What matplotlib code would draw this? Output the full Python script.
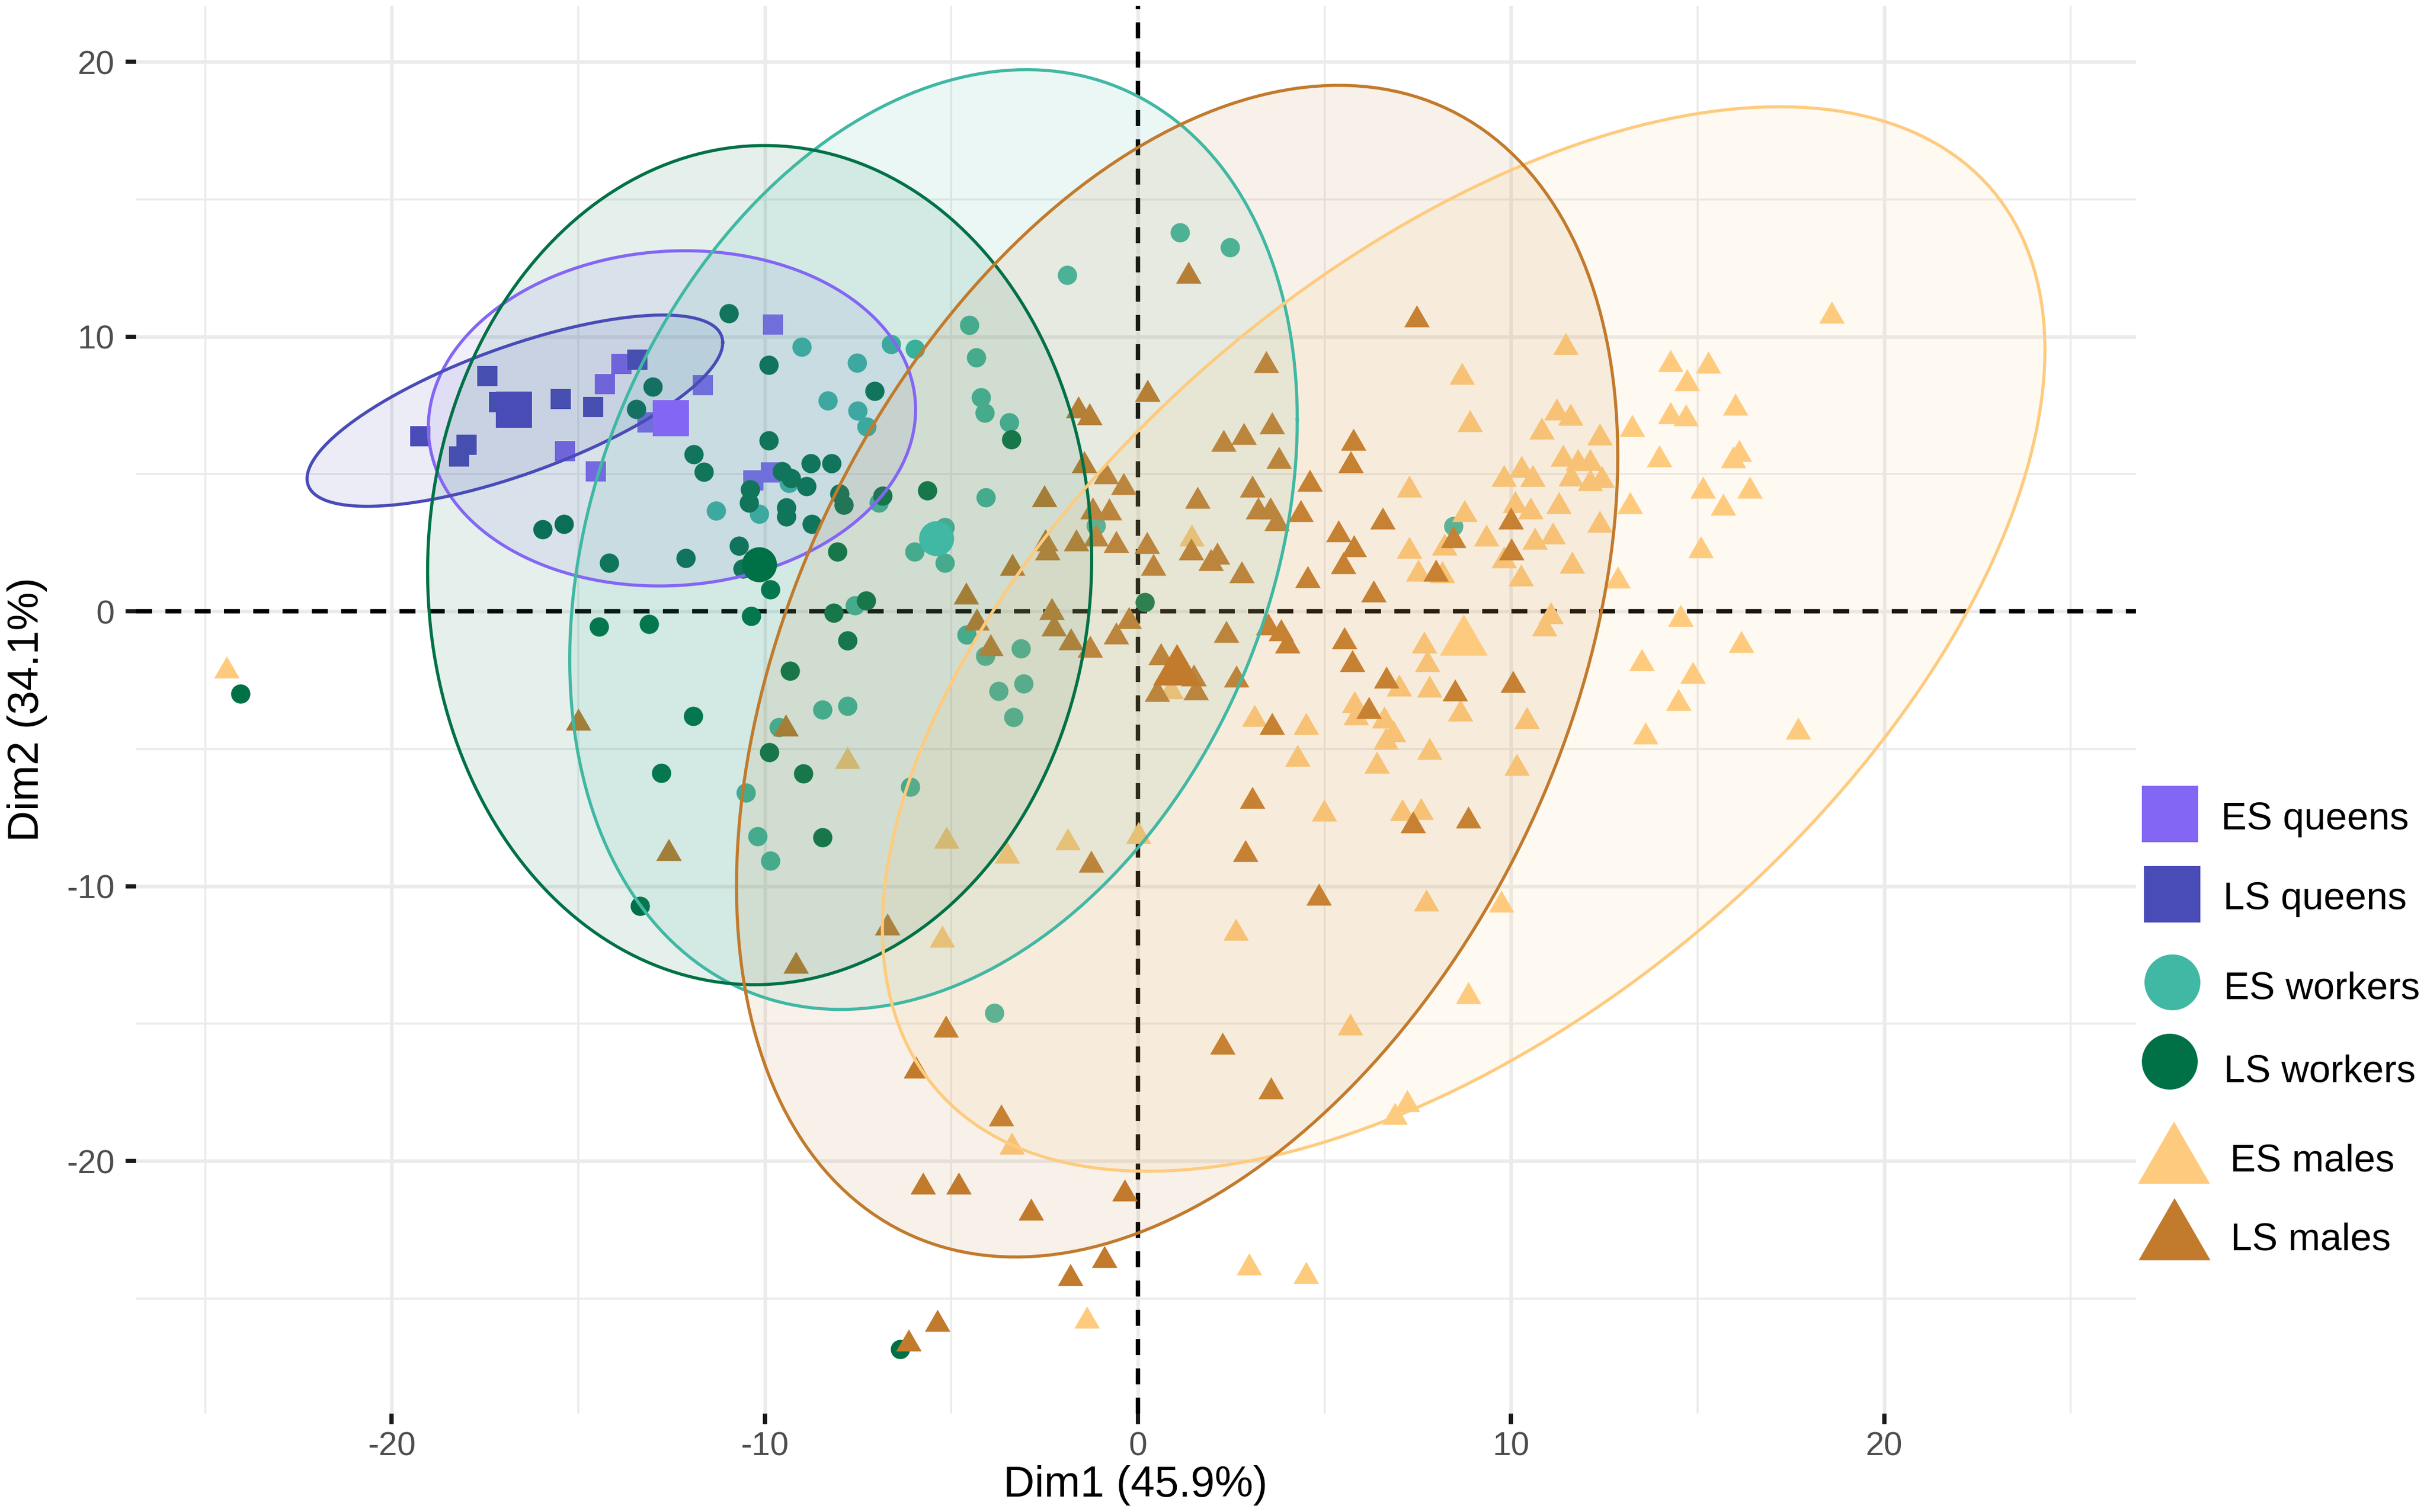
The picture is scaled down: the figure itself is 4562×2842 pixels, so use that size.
import numpy as np
import matplotlib
matplotlib.use("Agg")
import matplotlib.pyplot as plt
from matplotlib.path import Path
from matplotlib.ticker import MultipleLocator, FixedLocator

plt.rcParams['font.family'] = ['Liberation Sans', 'DejaVu Sans']
plt.rcParams['axes.unicode_minus'] = False

# ---------------- data ----------------
groups = ['ES queens', 'LS queens', 'ES workers', 'LS workers', 'ES males', 'LS males']
colors = ['#8466F4', '#494BB7', '#40B8A3', '#007146', '#FECB7E', '#C27A2C']

es_queens_x = [-9.78, -13.85, -14.29, -11.67, -13.15, -15.36, -14.53, -10.31, -9.84]
es_queens_y = [10.45, 9.01, 8.28, 8.23, 6.89, 5.84, 5.11, 4.78, 5.06]

ls_queens_x = [-17.44, -13.42, -17.13, -15.47, -14.6, -19.23, -17.99, -18.19]
ls_queens_y = [8.56, 9.17, 7.62, 7.73, 7.45, 6.37, 6.06, 5.64]

es_workers_x = [-9.01, -6.61, -5.97, -7.53, -8.32, -7.51, -7.27, -11.31, -10.15, -9.36,
                -6.94, -5.99, -5.17, -5.17, -7.59, 1.12, 2.46, -1.89, -4.52, -4.34,
                -4.2, -4.1, -3.45, -4.08, -1.12, 8.45, -4.59, -4.09, -3.14, -3.06,
                -3.73, -3.33, -8.46, -7.79, -9.62, -10.51, -6.11, -10.19, -9.86, -3.85]
es_workers_y = [9.64, 9.73, 9.56, 9.06, 7.67, 7.3, 6.73, 3.67, 3.56, 4.67,
                3.95, 2.17, 1.78, 3.06, 0.22, 13.8, 13.26, 12.24, 10.42, 9.24,
                7.8, 7.24, 6.89, 4.16, 3.13, 3.11, -0.84, -1.62, -1.34, -2.62,
                -2.9, -3.84, -3.58, -3.43, -4.21, -6.6, -6.38, -8.18, -9.08, -14.6]

ls_workers_x = [-10.96, -9.9, -13.0, -13.44, -7.06, -9.9, -11.9, -11.63, -8.77, -8.22,
                -9.54, -9.3, -8.89, -10.39, -10.43, -9.42, -9.42, -8.74, -8.0, -7.89,
                -6.85, -5.64, -15.95, -15.38, -14.17, -12.12, -10.7, -10.6, -9.86, -8.06,
                -7.29, -8.15, -10.37, -14.45, -13.11, -7.79, -9.33, -3.4, 0.18, -11.92,
                -9.88, -12.78, -8.97, -8.46, -13.34, -6.37, -24.05]
ls_workers_y = [10.86, 8.98, 8.17, 7.36, 8.03, 6.23, 5.73, 5.08, 5.39, 5.39,
                5.11, 4.84, 4.56, 4.45, 3.95, 3.78, 3.45, 3.19, 4.28, 3.89,
                4.22, 4.41, 3.0, 3.19, 1.78, 1.95, 2.39, 1.56, 0.81, 2.17,
                0.39, -0.05, -0.17, -0.56, -0.45, -1.06, -2.15, 6.27, 0.33, -3.8,
                -5.13, -5.88, -5.9, -8.21, -10.71, -26.85, -3.0]

es_males_x = [8.69, 8.9, 10.82, 7.27, 9.81, 10.28, 10.58, 8.75, 10.11, 10.52,
              9.34, 7.27, 8.22, 10.64, 7.51, 8.16, 9.81, 10.26, 1.44,
              18.59, 11.46, 14.27, 15.28, 14.71, 16.01, 11.22, 11.59, 14.27, 14.69,
              13.25, 12.38, 16.11, 15.96, 13.98, 11.4, 11.79, 12.12, 11.61, 12.12,
              12.44, 15.14, 16.4, 15.69, 13.19, 11.28, 12.38, 11.12, 11.64, 12.86,
              15.08, 11.06, 10.9, 14.55, 16.17, 13.5, 14.87, 14.49, 17.7, 10.43, 13.6,
              7.67, 7.76, 7.0, 7.81, 5.81, 5.84, 6.6, 6.84, 6.64, 8.64,
              3.12, 4.51, 4.28, 6.4, 7.81, 10.15, 4.99, 7.08, 7.59, 7.73,
              9.74, 2.62, 8.85, 5.69,
              -7.79, -5.13, -1.88, -3.51, 0.01, -5.25, 0.88,
              -3.38, 7.22, 6.88, 2.98, 4.51, -1.37,
              -24.43]
es_males_y = [8.66, 6.94, 6.66, 4.55, 4.94, 5.27, 4.94, 3.66, 4.0, 3.77,
              2.77, 2.33, 2.44, 2.66, 1.5, 1.44, 1.99, 1.33, 2.77,
              10.89, 9.74, 9.13, 9.07, 8.44, 7.55, 7.37, 7.18, 7.24, 7.15,
              6.77, 6.46, 5.85, 5.63, 5.66, 5.68, 5.52, 5.52, 4.96, 4.79,
              4.91, 4.52, 4.52, 3.9, 3.96, 3.96, 3.29, 2.85, 1.79, 1.24,
              2.35, -0.04, -0.49, -0.15, -1.1, -1.76, -2.21, -3.21, -4.26, -3.87, -4.43,
              -1.12, -1.79, -2.68, -2.73, -3.29, -3.73, -3.85, -4.35, -4.62, -3.59,
              -3.79, -4.07, -5.23, -5.48, -4.99, -5.57, -7.24, -7.21, -7.18, -10.51,
              -10.55, -11.57, -13.88, -15.02,
              -5.32, -8.21, -8.27, -8.77, -8.04, -11.82, -2.77,
              -19.35, -17.81, -18.26, -23.75, -24.05, -25.68,
              -2.03]

ls_males_x = [1.36, 7.47, 3.43, 0.26, -1.6, -1.3, 3.6, 2.3, 2.84, 3.78,
              5.77, 5.7, -1.44, -0.85, -0.39, -2.51, 1.6, 3.07, 4.61, 3.22,
              3.55, 3.72, 4.37, -1.21, -0.77, 6.56, 5.38, 5.79, 5.5, 9.99,
              8.45, 10.01, 7.98, 6.32, 4.55, 2.78, 2.13, 1.42, 1.95, 0.41,
              0.24, -0.59, -1.66, -1.12, -2.48, -2.43, -3.37, -4.61, -4.32, -2.31,
              -2.25, -0.24, -0.59, 2.36, 3.49, 3.84, 5.53,
              -3.95, -1.79, -1.29, -15.0, -9.44, -12.58, -1.25, -6.72, -9.17, -5.15,
              2.26, 0.61, 1.49, 0.52, 1.55,
              10.05,
              -5.95, -3.66, -5.76, -4.81, -2.86, -0.35, -0.9, -1.81, -5.38, -6.14, 3.57,
              4.0, 2.64, 5.74, 6.66, 8.5, 6.19, 3.59, 3.06, 7.37, 8.85, 2.88, 4.85]
ls_males_y = [12.35, 10.75, 9.09, 8.05, 7.44, 7.2, 6.86, 6.22, 6.47, 5.61,
              6.27, 5.44, 5.44, 5.05, 4.66, 4.22, 4.16, 4.55, 4.77, 3.77,
              3.77, 3.33, 3.66, 3.77, 3.72, 3.39, 2.94, 2.39, 1.77, 3.39,
              2.72, 2.27, 1.5, 0.75, 1.27, 1.44, 2.11, 2.27, 1.88, 1.72,
              2.5, 2.55, 2.61, 2.77, 2.61, 2.27, 1.72, 0.66, -0.28, 0.11,
              -0.5, -0.23, -0.78, -0.73, -0.45, -0.67, -0.95,
              -1.21, -0.99, -1.26, -3.93, -4.13, -8.66, -9.1, -11.38, -12.77, -15.1,
              -15.71, -1.54, -2.32, -2.88, -2.82,
              -2.54,
              -16.59, -18.32, -20.81, -20.81, -21.76, -21.06, -23.47, -24.14, -25.79, -26.52, -17.33,
              -1.12, -2.35, -1.79, -2.4, -2.85, -3.49, -4.07, -6.76, -7.66, -7.48, -8.71, -10.29]

# group means (large symbols)
centroid_x = [-12.52, -16.73, -5.40, -10.15, 8.73, 1.04]
centroid_y = [7.04, 7.34, 2.67, 1.72, -0.84, -1.93]

# concentration ellipses: centre, x spread, y spread, covariance term
ell_cx = [-12.49, -16.70, -5.48, -10.14, 8.73, 1.05]
ell_cy = [7.03, 7.31, 2.62, 1.69, -1.00, -2.17]
ell_sx = [6.53, 5.57, 9.75, 8.90, 15.58, 11.81]
ell_sy = [6.10, 3.48, 17.10, 15.27, 19.37, 21.32]
ell_sxy = [2.1, 13.78, 42.6, 2.0, 164.0, 92.4]

xs = [es_queens_x, ls_queens_x, es_workers_x, ls_workers_x, es_males_x, ls_males_x]
ys = [es_queens_y, ls_queens_y, es_workers_y, ls_workers_y, es_males_y, ls_males_y]

# ---------------- styling ----------------
W, H = 4562, 2842
DPI = 300
fig = plt.figure(figsize=(W / DPI, H / DPI), dpi=DPI)
fig.patch.set_facecolor('white')

ax = fig.add_axes([256 / W, 1 - 2656.6 / H, (4015 - 256) / W, (2656.6 - 10.6) / H])
ax.set_xlim(-26.85, 26.75)
ax.set_ylim(-29.18, 22.05)

TRI = Path([(0, 0.433), (-0.5, -0.433), (0.5, -0.433), (0, 0.433)],
           [Path.MOVETO, Path.LINETO, Path.LINETO, Path.CLOSEPOLY])
markers = ['s', 's', 'o', 'o', TRI, TRI]
small_ms = [8.9, 8.9, 8.7, 8.7, 11.5, 11.5]
big_ms = [16.3, 16.3, 15.8, 15.8, 21.6, 21.6]

for s in ax.spines.values():
    s.set_visible(False)
ax.set_facecolor('white')
ax.xaxis.set_major_locator(FixedLocator([-20, -10, 0, 10, 20]))
ax.yaxis.set_major_locator(FixedLocator([-20, -10, 0, 10, 20]))
ax.xaxis.set_minor_locator(MultipleLocator(5))
ax.yaxis.set_minor_locator(MultipleLocator(5))
ax.grid(which='major', color='#EBEBEB', linewidth=1.6, zorder=0)
ax.grid(which='minor', color='#EBEBEB', linewidth=0.9, zorder=0)
ax.set_axisbelow(True)
ax.tick_params(which='major', length=4.8, width=1.9, color='#1A1A1A',
               labelsize=15, labelcolor='#4D4D4D')
ax.tick_params(axis='x', which='major', pad=3)
ax.tick_params(axis='y', which='major', pad=5)
ax.tick_params(which='minor', length=0)

# reference lines
ax.axhline(0, color='black', linewidth=2.0, dashes=(3.6, 3.0), zorder=1.5)
ax.axvline(0, color='black', linewidth=2.0, dashes=(3.6, 3.0), zorder=1.5)

# individual points
for i in range(len(groups)):
    ax.plot(xs[i], ys[i], linestyle='none', marker=markers[i], ms=small_ms[i],
            color=colors[i], mew=0, zorder=3)

# ellipses
t = np.linspace(0, 2 * np.pi, 241)
circ = np.vstack([np.cos(t), np.sin(t)])
for i in range(len(groups)):
    S = np.array([[ell_sx[i] ** 2, ell_sxy[i]], [ell_sxy[i], ell_sy[i] ** 2]])
    L = np.linalg.cholesky(S)
    pts = L @ circ
    ex = pts[0] + ell_cx[i]
    ey = pts[1] + ell_cy[i]
    ax.fill(ex, ey, color=colors[i], alpha=0.1, linewidth=0, zorder=4)
    ax.plot(ex, ey, color=colors[i], linewidth=1.4, zorder=4.1)

# group means
for i in range(len(groups)):
    ax.plot([centroid_x[i]], [centroid_y[i]], linestyle='none', marker=markers[i],
            ms=big_ms[i], color=colors[i], mew=0, zorder=5)

# axis titles
fig.text(2134 / W, 1 - 2813 / H, 'Dim1 (45.9%)', ha='center', va='baseline',
         fontsize=19.5, color='black')
fig.text(72 / W, 1 - 1334 / H, 'Dim2 (34.1%)', ha='center', va='baseline',
         rotation=90, rotation_mode='anchor', fontsize=19.5, color='black')

# legend (drawn in figure pixel space)
lax = fig.add_axes([0, 0, 1, 1], zorder=10)
lax.set_xlim(0, W)
lax.set_ylim(H, 0)
lax.axis('off')
lax.patch.set_alpha(0)
leg_mx = [4079, 4083, 4083, 4078, 4086, 4087]
leg_my = [1530, 1681, 1846, 1995, 2166, 2310]
leg_tx = [4175, 4179, 4180, 4180, 4192, 4193]
leg_ty = [1559, 1709, 1878, 2033, 2202, 2349]
leg_ms = [25.4, 25.4, 25.2, 25.2, 32.4, 32.4]
for i in range(len(groups)):
    lax.plot([leg_mx[i]], [leg_my[i]], linestyle='none', marker=markers[i],
             ms=leg_ms[i], color=colors[i], mew=0)
    lax.text(leg_tx[i], leg_ty[i], groups[i], ha='left', va='baseline',
             fontsize=17.3, color='black')

fig.savefig('out.png', dpi=DPI, facecolor='white')
